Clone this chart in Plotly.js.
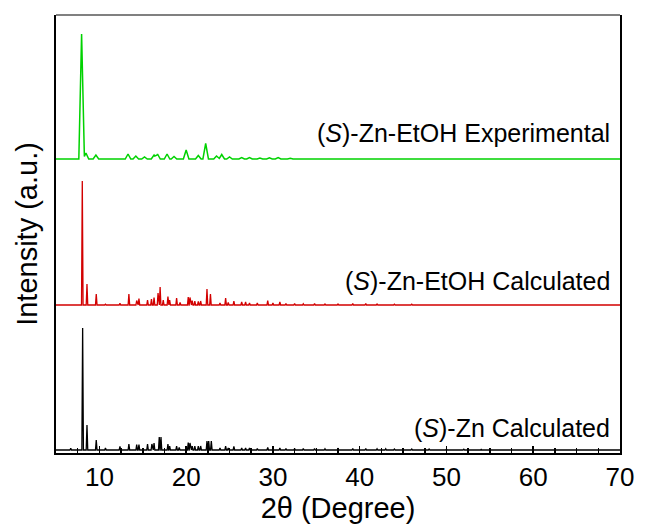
<!DOCTYPE html>
<html>
<head>
<meta charset="utf-8">
<script src="https://cdn.plot.ly/plotly-3.0.1.min.js"></script>
<style>html,body{margin:0;padding:0;background:#fff;}#chart{width:648px;height:528px;}</style>
</head>
<body>
<div id="chart"></div>
<script>
// Peak positions (2θ, degree) and heights (arbitrary units)
const expPos = [7.95, 8.45, 9.6, 13.3, 14.2, 15.2, 16.3, 16.7, 17.8, 18.6, 20.0, 21.4, 22.25, 23.5, 24.1, 25.0, 26.4, 27.3, 28.5, 29.6, 30.6, 32.0, 34.0];
const expH   = [125, 6, 4, 5, 3, 2, 4, 5, 5, 2.5, 9, 3.5, 15.5, 3, 4.5, 2, 1.5, 1.5, 1, 1.2, 1.5, 0.8, 0.6];

const ethPos = [8.03, 8.57, 9.64, 10.7, 12.37, 13.4, 14.3, 14.56, 15.55, 16.0, 16.3, 16.76, 17.0, 17.36, 17.9, 18.1, 18.9, 19.3, 20.24, 20.44, 20.7, 21.0, 21.4, 21.67, 22.4, 22.8, 23.9, 24.55, 24.85, 25.5, 26.4, 26.85, 27.3, 28.2, 29.4, 30.0, 30.8, 31.5, 32.5, 33.5, 34.8, 36.0, 37.5, 39.2, 40.7, 42.0, 44.0, 46.0, 48.0, 50.0, 52.0];
const ethH   = [124, 21, 11, 0.8, 1.7, 11, 4.5, 6.5, 5, 6, 7.5, 12, 18, 5, 8.5, 5, 7, 2.5, 8, 7.5, 4.5, 4, 3.5, 4, 16, 11, 2, 7, 2.5, 4, 3, 3, 2, 2, 4.5, 2, 3, 1.5, 1.5, 1.2, 1.5, 1, 1, 1.5, 1.5, 1, 0.8, 0.8, 0.7, 0.6, 0.5];

const znPos = [6.7, 8.07, 8.57, 9.64, 10.7, 12.37, 13.4, 14.3, 14.56, 15.55, 16.05, 16.3, 16.9, 17.1, 17.9, 18.1, 18.9, 19.2, 20.24, 20.44, 20.7, 21.0, 21.4, 21.67, 22.4, 22.6, 22.9, 23.9, 24.55, 24.85, 25.5, 26.4, 26.85, 27.3, 28.2, 29.4, 30.8, 31.5, 32.5, 33.5, 34.8, 36.0, 37.5, 39.2, 40.7, 42.0, 43.0, 44.0, 46.0, 48.0, 50.0, 52.0, 54.0];
const znH   = [1.7, 122, 25, 10, 2, 3.7, 6, 5.5, 5.5, 6, 6, 7, 13, 13, 6, 4, 4, 2.5, 7.5, 7, 4, 4, 4, 4, 9, 9, 9, 2, 4, 2, 3.5, 2, 2, 2, 1.5, 2.5, 2, 1.5, 1.5, 1.5, 1.5, 1.2, 1.2, 1.5, 1.5, 1.2, 1.2, 1, 1, 1, 0.8, 0.8, 0.6];

// vertical offsets of the stacked patterns
const offsets = [294, 148, 3];
const names = ["(S)-Zn-EtOH Experimental", "(S)-Zn-EtOH Calculated", "(S)-Zn Calculated"];
const xTicks = [10, 20, 30, 40, 50, 60, 70];

function profile(pos, h, off, w) {
  let xs = [5, 70];
  pos.forEach(p => { xs.push(p - w, p, p + w); });
  xs = Array.from(new Set(xs.map(v => +v.toFixed(4)))).sort((a, b) => a - b);
  const ys = xs.map(x => {
    let s = 0;
    for (let i = 0; i < pos.length; i++) {
      const d = Math.abs(x - pos[i]);
      if (d < w) s += h[i] * (1 - d / w);
    }
    return off + s;
  });
  return {x: xs, y: ys};
}

const g = profile(expPos, expH, offsets[0], 0.32);
const r = profile(ethPos, ethH, offsets[1], 0.09);
const k = profile(znPos, znH, offsets[2], 0.09);

const traces = [
  {x: g.x, y: g.y, mode: 'lines', line: {color: 'rgb(0,210,0)', width: 1.5}, name: names[0], hoverinfo: 'skip'},
  {x: r.x, y: r.y, mode: 'lines', line: {color: 'rgb(210,0,0)', width: 1.3}, name: names[1], hoverinfo: 'skip'},
  {x: k.x, y: k.y, mode: 'lines', line: {color: 'rgb(0,0,0)', width: 1.3}, name: names[2], hoverinfo: 'skip'}
];

const font = "Arial, 'Liberation Sans', sans-serif";
const layout = {
  width: 648, height: 528,
  margin: {l: 56, r: 28, t: 15, b: 75},
  paper_bgcolor: '#fff', plot_bgcolor: '#fff',
  showlegend: false,
  font: {family: font, color: '#000'},
  xaxis: {
    range: [5, 70], tickvals: xTicks, ticktext: xTicks.map(String),
    ticks: 'inside', ticklen: 7, tickwidth: 1.5, tickcolor: '#000',
    minor: {dtick: 2.5, tick0: 5, ticks: 'inside', ticklen: 5, tickwidth: 1.5, tickcolor: '#000'},
    showline: true, linecolor: '#000', linewidth: 2, mirror: false,
    showgrid: false, zeroline: false,
    tickfont: {size: 26, family: font},
    title: {text: '2θ (Degree)', font: {size: 29, family: font}, standoff: 4}
  },
  yaxis: {
    range: [0, 438], showticklabels: false, ticks: '',
    showline: true, linecolor: '#000', linewidth: 2, mirror: true,
    showgrid: false, zeroline: false,
    title: {text: 'Intensity (a.u.)', font: {size: 29, family: font}, standoff: 8}
  },
  shapes: [
    {type: 'line', xref: 'paper', yref: 'paper', x0: 0, x1: 1, y0: 1, y1: 1, line: {color: '#808080', width: 2}}
  ],
  annotations: [
    {text: '(<i>S</i>)-Zn-EtOH Experimental', xref: 'paper', yref: 'paper', x: 0.986, y: 0.7306, xanchor: 'right', yanchor: 'middle', showarrow: false, font: {size: 25, family: font}},
    {text: '(<i>S</i>)-Zn-EtOH Calculated', xref: 'paper', yref: 'paper', x: 0.986, y: 0.3927, xanchor: 'right', yanchor: 'middle', showarrow: false, font: {size: 25, family: font}},
    {text: '(<i>S</i>)-Zn Calculated', xref: 'paper', yref: 'paper', x: 0.986, y: 0.057, xanchor: 'right', yanchor: 'middle', showarrow: false, font: {size: 25, family: font}}
  ]
};

Plotly.newPlot('chart', traces, layout, {staticPlot: true, displayModeBar: false});
</script>
</body>
</html>
